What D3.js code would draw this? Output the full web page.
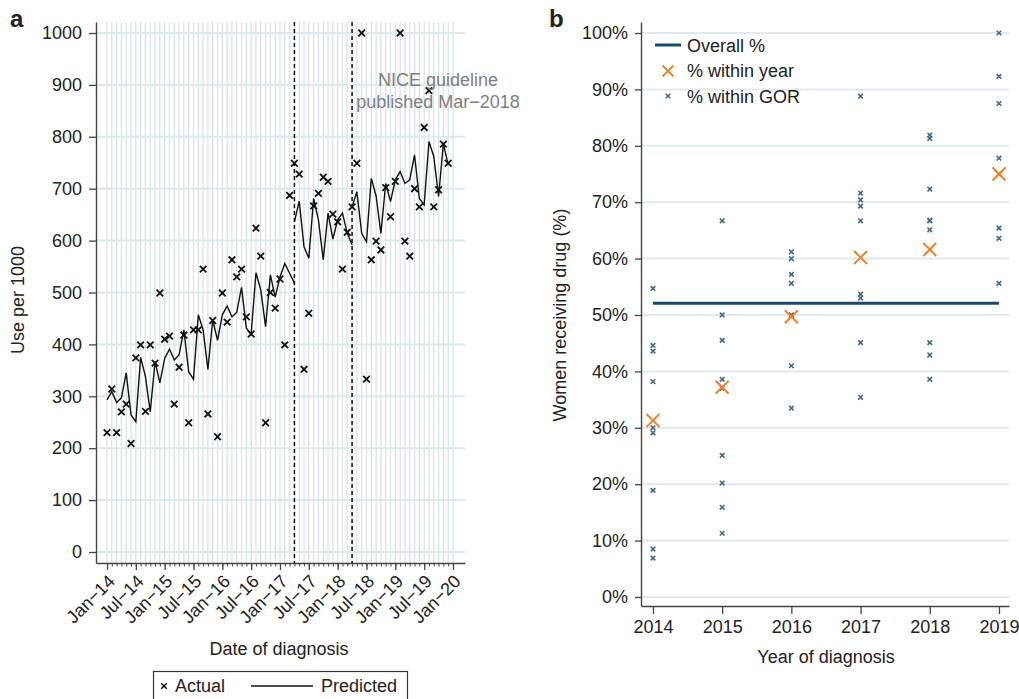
<!DOCTYPE html>
<html>
<head>
<meta charset="utf-8">
<script src="https://cdn.jsdelivr.net/npm/d3@7"></script>
<style>
body{margin:0;background:#fff;}
text{font-family:"Liberation Sans",Arial,Helvetica,sans-serif;fill:#222;}
</style>
</head>
<body>
<svg id="chart" width="1019" height="699"></svg>
<script>
// ---------- Panel a data ----------
const monthTickLabels = ["Jan\u221214","Jul\u221214","Jan\u221215","Jul\u221215","Jan\u221216","Jul\u221216","Jan\u221217","Jul\u221217","Jan\u221218","Jul\u221218","Jan\u221219","Jul\u221219","Jan\u221220"];
const useTicks = [0,100,200,300,400,500,600,700,800,900,1000];
const actual = [230,314,230,270,285,209,374,399,271,399,364,499,410,416,285,356,418,249,428,428,
  545,266,446,222,499,443,563,530,545,453,420,624,570,249,500,470,526,399,687,749,
  728,352,460,667,691,722,714,651,636,545,616,665,749,1000,333,563,599,582,702,646,
  714,1000,599,570,700,665,818,889,665,698,786,749];
const predSeg1 = [293,309,288,297,345,264,251,375,338,270,367,326,373,391,370,380,428,347,333,457,
  428,352,447,408,457,474,453,462,510,431,420,538,505,434,534,491,530,556,537,518]; // months 0-39
const predSeg2 = [636,676,588,566,681,640,563,653,603,640,653,614,592]; // months 39-51
const predSeg3 = [665,694,614,598,720,686,614,710,675,717,733,710,717,765,681,669,791,762,685,787,746]; // months 51-71
const segStarts = [0, 39, 51];
const breakMonths = [39, 51];
const annotationLines = ["NICE guideline", "published Mar\u22122018"];

// ---------- Panel b data ----------
const years = [2014,2015,2016,2017,2018,2019];
const pctTicks = [0,10,20,30,40,50,60,70,80,90,100];
const overallPct = 52.1;
const withinYear = [31.3,37.2,49.7,60.2,61.6,75.0];
const gor2014 = [54.7,44.6,43.6,38.2,30.0,29.1,18.9,8.5,6.9];
const gor2015 = [66.7,50.0,45.5,38.6,37.0,25.1,20.2,15.9,11.3];
const gor2016 = [61.2,60.0,57.2,55.6,50.0,49.8,41.0,33.5];
const gor2017 = [88.8,71.6,70.4,69.3,66.7,53.7,53.0,45.1,35.4];
const gor2018 = [81.9,81.3,72.3,66.8,66.7,65.1,45.1,42.9,38.6];
const gor2019 = [100,92.3,87.5,77.8,75.0,65.4,63.6,55.6];
const gorByYear = [gor2014,gor2015,gor2016,gor2017,gor2018,gor2019];

const svg = d3.select("#chart");
const FS = 18;
const axisCol = "#444";

function styleAxis(g){
  g.select(".domain").attr("stroke", axisCol).attr("stroke-width", 1.4);
  g.selectAll(".tick line").attr("stroke", axisCol).attr("stroke-width", 1.3);
  g.selectAll(".tick text").attr("font-size", FS).attr("fill","#222")
   .style("font-family","'Liberation Sans',Arial,sans-serif");
}
function cross(sel, r){
  return `M${-r},${-r}L${r},${r}M${-r},${r}L${r},${-r}`;
}

// ================= Panel a =================
const xA = d3.scaleLinear().domain([-2.29, 74.5]).range([96, 465]);
const yA = d3.scaleLinear().domain([-21.2, 1021.2]).range([563, 22]);
const gA = svg.append("g");

// vertical monthly gridlines
gA.append("g").selectAll("line").data(d3.range(0,73)).join("line")
  .attr("x1", d=>xA(d)).attr("x2", d=>xA(d))
  .attr("y1", yA.range()[1]).attr("y2", yA.range()[0])
  .attr("stroke", "#d6e5e9").attr("stroke-width", 1.3);
// horizontal gridlines
gA.append("g").selectAll("line").data(useTicks).join("line")
  .attr("x1", 96).attr("x2", 465)
  .attr("y1", d=>yA(d)).attr("y2", d=>yA(d))
  .attr("stroke", "#dde9ec").attr("stroke-width", 2);

// axes
const yAxisA = gA.append("g").attr("transform","translate(96,0)")
  .call(d3.axisLeft(yA).tickValues(useTicks).tickSize(7).tickSizeOuter(0).tickPadding(7)
    .tickFormat(d3.format("d")));
styleAxis(yAxisA);
const xMinor = gA.append("g").attr("transform","translate(0,563)")
  .call(d3.axisBottom(xA).tickValues(d3.range(0,73)).tickSize(3.5).tickSizeOuter(0).tickFormat(""));
styleAxis(xMinor);
xMinor.selectAll(".tick line").attr("stroke-width",1);
const xMajor = gA.append("g").attr("transform","translate(0,563)")
  .call(d3.axisBottom(xA).tickValues(d3.range(0,73,6)).tickSize(7).tickSizeOuter(0)
    .tickFormat((d,i)=>monthTickLabels[i]));
styleAxis(xMajor);
xMajor.select(".domain").remove();
xMajor.selectAll(".tick text")
  .attr("text-anchor","end").attr("dy","0.35em")
  .attr("transform","translate(4,15) rotate(-45)").attr("x",0).attr("y",0);

// dashed break lines
gA.append("g").selectAll("line").data(breakMonths).join("line")
  .attr("x1", d=>xA(d)).attr("x2", d=>xA(d))
  .attr("y1", 22).attr("y2", 563)
  .attr("stroke","#111").attr("stroke-width",1.5).attr("stroke-dasharray","4,3");

// predicted line segments
const lineA = d3.line().x(d=>xA(d.m)).y(d=>yA(d.v));
[predSeg1, predSeg2, predSeg3].forEach((seg, si)=>{
  const pts = seg.map((v,i)=>({m: segStarts[si]+i, v}));
  gA.append("path").datum(pts).attr("d", lineA)
    .attr("fill","none").attr("stroke","#111").attr("stroke-width",1.4);
});

// actual markers
gA.append("g").selectAll("path").data(actual).join("path")
  .attr("transform",(d,i)=>`translate(${xA(i)},${yA(d)})`)
  .attr("d", cross(null,3.3)).attr("stroke","#111").attr("stroke-width",1.8).attr("fill","none");

// annotation
const ann = gA.append("text").attr("x", 438).attr("y", 86).attr("text-anchor","middle")
  .attr("font-size", FS).style("fill","#7f7f7f");
annotationLines.forEach((t,i)=>ann.append("tspan").attr("x",438).attr("dy", i===0?0:21.5).text(t));

// titles
gA.append("text").attr("transform","translate(24,300) rotate(-90)").attr("text-anchor","middle")
  .attr("font-size",FS).text("Use per 1000");
gA.append("text").attr("x",279).attr("y",655).attr("text-anchor","middle")
  .attr("font-size",FS).text("Date of diagnosis");
gA.append("text").attr("x",10).attr("y",27).attr("font-size",24).attr("font-weight","bold").text("a");

// legend a
const legA = gA.append("g");
legA.append("rect").attr("x",153.5).attr("y",671.5).attr("width",254).attr("height",40)
  .attr("fill","none").attr("stroke","#333").attr("stroke-width",1.2);
legA.append("path").attr("transform","translate(164,686)").attr("d",cross(null,2.8))
  .attr("stroke","#111").attr("stroke-width",1.6);
legA.append("text").attr("x",175).attr("y",692).attr("font-size",FS).text("Actual");
legA.append("line").attr("x1",251).attr("x2",313).attr("y1",686).attr("y2",686)
  .attr("stroke","#111").attr("stroke-width",1.4);
legA.append("text").attr("x",321).attr("y",692).attr("font-size",FS).text("Predicted");

// ================= Panel b =================
const xB = d3.scaleLinear().domain([2013.827, 2019.145]).range([641, 1009]);
const yB = d3.scaleLinear().domain([-1.6, 101.95]).range([606, 22]);
const gB = svg.append("g");

gB.append("g").selectAll("line").data(pctTicks).join("line")
  .attr("x1",641).attr("x2",1009).attr("y1",d=>yB(d)).attr("y2",d=>yB(d))
  .attr("stroke","#e1e9ee").attr("stroke-width",2);

const yAxisB = gB.append("g").attr("transform","translate(641,0)")
  .call(d3.axisLeft(yB).tickValues(pctTicks).tickSize(6).tickSizeOuter(0).tickPadding(7)
    .tickFormat(d=>d+"%"));
styleAxis(yAxisB);
const xAxisB = gB.append("g").attr("transform","translate(0,606)")
  .call(d3.axisBottom(xB).tickValues(years).tickSize(8).tickSizeOuter(0).tickPadding(6)
    .tickFormat(d3.format("d")));
styleAxis(xAxisB);

// overall line
gB.append("line").attr("x1",xB(2014)).attr("x2",xB(2019))
  .attr("y1",yB(overallPct)).attr("y2",yB(overallPct))
  .attr("stroke","#1a4a6b").attr("stroke-width",3);

// GOR points
const gorPts = [];
gorByYear.forEach((arr,i)=>arr.forEach(v=>gorPts.push({x:years[i], v})));
gB.append("g").selectAll("path").data(gorPts).join("path")
  .attr("transform",d=>`translate(${xB(d.x)},${yB(d.v)})`)
  .attr("d",cross(null,2.3)).attr("stroke","#3f6b87").attr("stroke-width",1.6);

// within-year points
gB.append("g").selectAll("path").data(withinYear).join("path")
  .attr("transform",(d,i)=>`translate(${xB(years[i])},${yB(d)})`)
  .attr("d",cross(null,6.5)).attr("stroke","#f5822a").attr("stroke-width",2);

// titles
gB.append("text").attr("transform","translate(566,315) rotate(-90)").attr("text-anchor","middle")
  .attr("font-size",FS).text("Women receiving drug (%)");
gB.append("text").attr("x",826).attr("y",663).attr("text-anchor","middle")
  .attr("font-size",FS).text("Year of diagnosis");
gB.append("text").attr("x",549).attr("y",27).attr("font-size",24).attr("font-weight","bold").text("b");

// legend b
const legB = gB.append("g");
legB.append("line").attr("x1",655).attr("x2",681).attr("y1",45).attr("y2",45)
  .attr("stroke","#1a4a6b").attr("stroke-width",3);
legB.append("text").attr("x",687).attr("y",51.5).attr("font-size",18).text("Overall %");
legB.append("path").attr("transform","translate(668,71)").attr("d",cross(null,5.5))
  .attr("stroke","#f5822a").attr("stroke-width",1.8);
legB.append("text").attr("x",687).attr("y",77).attr("font-size",18).text("% within year");
legB.append("path").attr("transform","translate(668,96)").attr("d",cross(null,2.2))
  .attr("stroke","#3f6b87").attr("stroke-width",1.6);
legB.append("text").attr("x",687).attr("y",102.5).attr("font-size",18).text("% within GOR");
</script>
</body>
</html>
